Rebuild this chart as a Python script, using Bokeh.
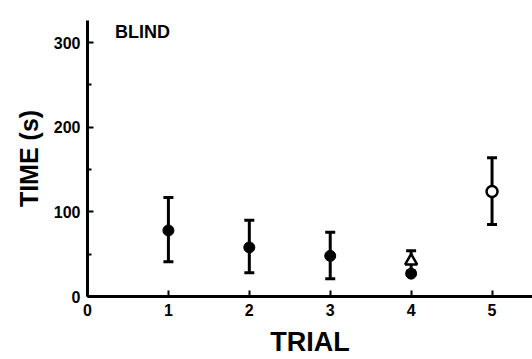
from bokeh.plotting import figure
from bokeh.models import Range1d, ColumnDataSource, Whisker, TeeHead, Label, FixedTicker
from bokeh.embed import file_html
from bokeh.resources import INLINE

# Data
trials_filled = [1, 2, 3]
mean_filled = [78, 58, 48]
upper_filled = [117, 90, 76]
lower_filled = [41, 28, 21]

trial_tri = [4]
mean_tri = [42]
upper_tri = [54]
lower_tri = [30]

trial_circ4 = [4]
mean_circ4 = [27]

trial_open = [5]
mean_open = [124]
upper_open = [164]
lower_open = [85]

x_ticks = [0, 1, 2, 3, 4, 5]
y_ticks = [0, 100, 200, 300]
y_minor = [50, 150, 250]

FONT = "Liberation Sans"

p = figure(width=532, height=359, output_backend="svg", toolbar_location=None,
           x_range=Range1d(0, 5.5), y_range=Range1d(0, 326),
           min_border_left=87, min_border_right=0, min_border_top=20, min_border_bottom=62)
p.outline_line_color = None
p.xgrid.visible = False
p.ygrid.visible = False
p.background_fill_color = "white"
p.border_fill_color = "white"

for ax in (p.xaxis[0], p.yaxis[0]):
    ax.axis_line_width = 3
    ax.axis_line_color = "black"
    ax.major_tick_in = 6
    ax.major_tick_out = 0
    ax.major_tick_line_width = 2
    ax.minor_tick_in = 4
    ax.minor_tick_out = 0
    ax.minor_tick_line_width = 2
    ax.major_label_text_font = FONT
    ax.major_label_text_font_style = "bold"
    ax.major_label_text_font_size = "16px"
    ax.major_label_text_color = "black"
    ax.axis_label_text_font = FONT
    ax.axis_label_text_font_style = "bold"
    ax.axis_label_text_color = "black"
    ax.major_label_standoff = 7

p.xaxis.ticker = FixedTicker(ticks=x_ticks)
p.xaxis.minor_tick_line_color = None
p.yaxis.ticker = FixedTicker(ticks=y_ticks, minor_ticks=y_minor)
p.yaxis.axis_label = "TIME (s)"
p.yaxis.axis_label_text_font_size = "25px"
p.yaxis.axis_label_standoff = 8
p.xaxis.axis_label = "TRIAL"
p.xaxis.axis_label_text_font_size = "27px"
p.xaxis.axis_label_standoff = 8

def add_err(x, lo, hi):
    src = ColumnDataSource(dict(x=x, lo=lo, hi=hi))
    w = Whisker(source=src, base="x", lower="lo", upper="hi", line_width=3, line_color="black",
                upper_head=TeeHead(size=10, line_width=3, line_color="black"),
                lower_head=TeeHead(size=10, line_width=3, line_color="black"))
    p.add_layout(w)

add_err(trials_filled, lower_filled, upper_filled)
add_err(trial_tri, lower_tri, upper_tri)
add_err(trial_open, lower_open, upper_open)

p.scatter(trials_filled, mean_filled, marker="circle", size=11, fill_color="black", line_color="black")
p.scatter(trial_circ4, mean_circ4, marker="circle", size=11, fill_color="black", line_color="black")
p.scatter(trial_tri, mean_tri, marker="triangle", size=12, fill_color="white", line_color="black", line_width=2.5)
p.scatter(trial_open, mean_open, marker="circle", size=11, fill_color="white", line_color="black", line_width=2.5)

p.add_layout(Label(x=0.34, y=313, text="BLIND",
                   text_font=FONT, text_font_style="bold", text_font_size="18px",
                   text_color="black", text_baseline="alphabetic"))

open("out.html", "w").write(file_html(p, INLINE))
